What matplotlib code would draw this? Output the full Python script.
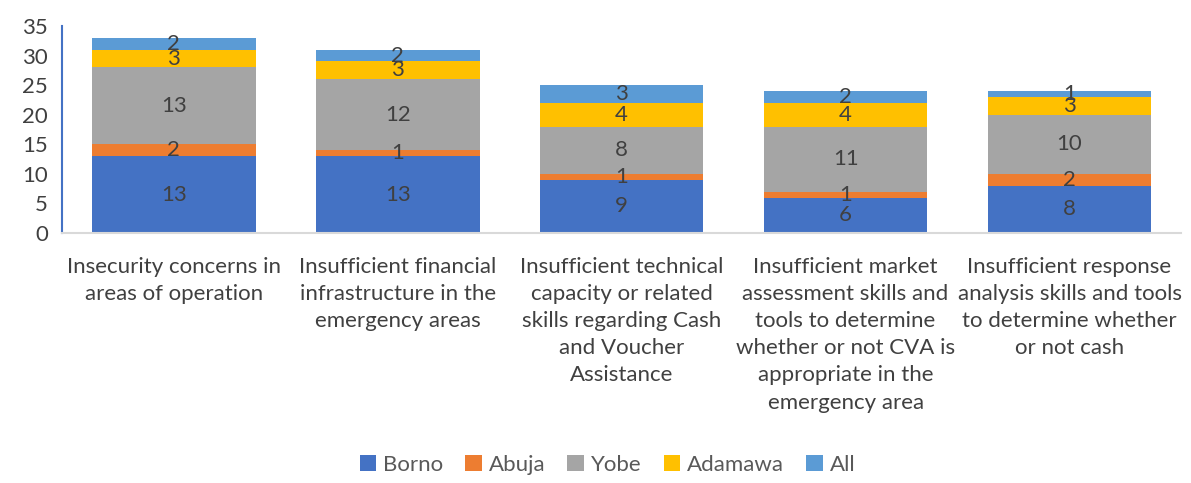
import matplotlib.pyplot as plt
import numpy as np

plt.rcParams['font.family'] = ['Lato', 'DejaVu Sans']

categories = [
    "Insecurity concerns in\nareas of operation",
    "Insufficient financial\ninfrastructure in the\nemergency areas",
    "Insufficient technical\ncapacity or related\nskills regarding Cash\nand Voucher\nAssistance",
    "Insufficient market\nassessment skills and\ntools to determine\nwhether or not CVA is\nappropriate in the\nemergency area",
    "Insufficient response\nanalysis skills and tools\nto determine whether\nor not cash",
]
borno = [13, 13, 9, 6, 8]
abuja = [2, 1, 1, 1, 2]
yobe = [13, 12, 8, 11, 10]
adamawa = [3, 3, 4, 4, 3]
all_states = [2, 2, 3, 2, 1]

series = [("Borno", borno, "#4472C4"),
          ("Abuja", abuja, "#ED7D31"),
          ("Yobe", yobe, "#A5A5A5"),
          ("Adamawa", adamawa, "#FFC000"),
          ("All", all_states, "#5B9BD5")]

fig = plt.figure(figsize=(11.91, 4.83), dpi=100)
ax = fig.add_axes([0.052, 0.5176, 0.94, 0.4286])

x = np.arange(len(categories))
bottom = np.zeros(len(categories))
for name, vals, color in series:
    bars = ax.bar(x, vals, 0.73, bottom=bottom, color=color, label=name)
    ax.bar_label(bars, labels=[str(v) for v in vals], label_type='center',
                 color='#404040', fontsize=16)
    bottom += np.array(vals)

ax.set_xlim(-0.5, len(categories) - 0.5)
ax.set_ylim(0, 35)
ax.set_yticks(range(0, 36, 5))
ax.set_xticks(x)
ax.set_xticklabels(categories, fontsize=16, color='#404040', linespacing=1.45)
ax.tick_params(axis='both', length=0, labelcolor='#404040', labelsize=16)
ax.tick_params(axis='x', pad=17)
ax.tick_params(axis='y', pad=10)

for s in ['top', 'right']:
    ax.spines[s].set_visible(False)
ax.spines['left'].set_color('#4472C4')
ax.spines['left'].set_linewidth(1.5)
ax.spines['bottom'].set_color('#D9D9D9')
ax.spines['bottom'].set_linewidth(1.5)

fig.legend(loc='lower center', ncol=5, frameon=False, fontsize=16,
           bbox_to_anchor=(0.51, -0.025), handlelength=0.75, handleheight=0.75,
           handletextpad=0.3, columnspacing=1.0, labelcolor='#595959')

fig.savefig("out.png", dpi=100)
